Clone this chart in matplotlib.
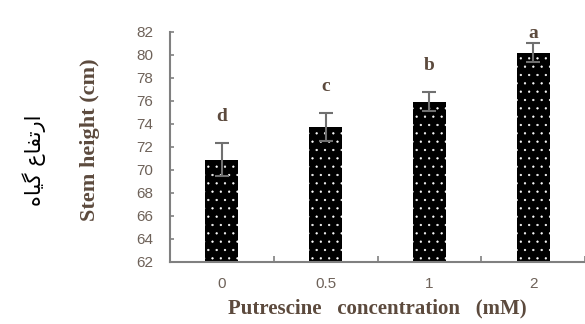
import matplotlib.pyplot as plt
import numpy as np

categories = ["0", "0.5", "1", "2"]
heights = [70.9, 73.75, 75.95, 80.2]
errors = [1.45, 1.2, 0.8, 0.85]
letters = ["d", "c", "b", "a"]
yticks = list(range(62, 83, 2))

label_color = "#5c4a3d"
tick_color = "#6e6259"
axis_color = "#808080"

plt.rcParams["hatch.linewidth"] = 0.4

fig = plt.figure(figsize=(5.85, 3.24), dpi=100)
ax = fig.add_axes([0.2906, 0.1914, 0.7094, 0.7099])

x = np.arange(len(categories))
ax.bar(x, [h - 62 for h in heights], bottom=62, width=0.32, color="black",
       edgecolor="white", linewidth=0, hatch="..")
ax.errorbar(x, heights, yerr=errors, fmt="none", ecolor="#707070",
            elinewidth=1.5, capsize=5, capthick=1.5)

for xi, h, e, lab in zip(x, heights, errors, letters):
    ax.text(xi, min(h + e + 2.3, 81.9), lab, ha="center", va="center", fontsize=14,
            fontweight="bold", family="Liberation Serif", color=label_color,
            clip_on=False)

ax.set_xlim(-0.5, 3.5)
ax.set_ylim(62, 82)
ax.set_yticks(yticks)
ax.set_yticklabels([str(t) for t in yticks], fontsize=11,
                   family="Liberation Sans", color=tick_color)
ax.tick_params(axis="y", direction="in", length=3, width=1.2, color=axis_color, pad=12)

ax.set_xticks([-0.5, 0.5, 1.5, 2.5, 3.5])
ax.set_xticklabels([])
ax.tick_params(axis="x", which="major", direction="in", length=4, width=1.2, color=axis_color)
ax.set_xticks(x, minor=True)
ax.set_xticklabels(categories, minor=True, fontsize=11,
                   family="Liberation Sans", color=tick_color)
ax.tick_params(axis="x", which="minor", length=0, pad=11)

for s in ["top", "right"]:
    ax.spines[s].set_visible(False)
for s in ["left", "bottom"]:
    ax.spines[s].set_color(axis_color)
    ax.spines[s].set_linewidth(1.5)

ax.set_xlabel("Putrescine   concentration   (mM)", fontsize=15, fontweight="bold",
              family="Liberation Serif", color=label_color, labelpad=5)
ax.set_ylabel("Stem height (cm)", fontsize=16, fontweight="bold",
              family="Liberation Serif", color=label_color)
ax.yaxis.set_label_coords(-0.168, 0.53)

# Persian label, pre-shaped glyphs in visual order
persian = "\uFEE9\uFE8E\uFBFF\uFB94 \uFEC9\uFE8E\uFED4\uFE97\uFEAD\uFE8D"
fig.text(0.058, 0.506, persian, rotation=90, ha="center", va="center",
         fontsize=15, family="DejaVu Sans", color="black")

fig.savefig("out.png", dpi=100)
